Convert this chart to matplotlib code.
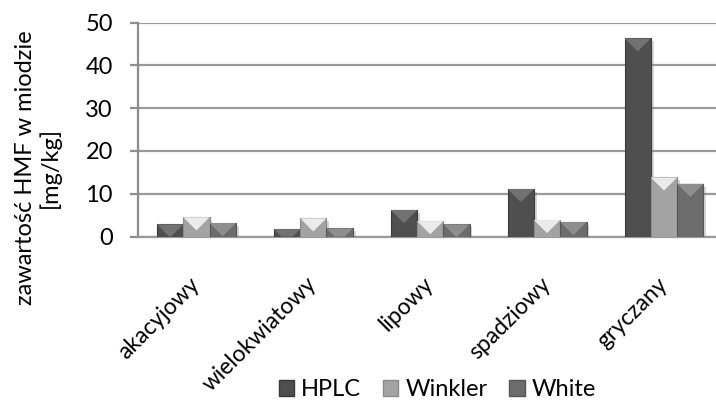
import matplotlib
matplotlib.use('Agg')
import matplotlib.pyplot as plt
import matplotlib.patheffects as pe
from matplotlib.patches import Polygon, Rectangle
import numpy as np

categories = ['akacyjowy', 'wielokwiatowy', 'lipowy', 'spadziowy', 'gryczany']
series_names = ['HPLC', 'Winkler', 'White']
hplc = [2.85, 1.75, 6.2, 11.1, 46.3]
winkler = [4.5, 4.25, 3.6, 3.85, 13.8]
white = [3.15, 1.9, 2.85, 3.4, 12.3]
y_ticks = [0, 10, 20, 30, 40, 50]

body_colors = ['#4f4f4f', '#a3a3a3', '#6c6c6c']
top_colors = ['#727272', '#ebebeb', '#8e8e8e']
edge_colors = ['#3a3a3a', '#8a8a8a', '#555555']

plt.rcParams['font.family'] = ['Lato', 'DejaVu Sans']
fs = 17

fig = plt.figure(figsize=(7.16, 4.04), dpi=100)
ax = fig.add_axes([0.1927, 0.4146, 0.8163, 0.5297])

ax.set_xlim(-0.5, len(categories) - 0.5)
ax.set_ylim(0, 50)

bar_w = 0.225
x = np.arange(len(categories))
# depth of the bevel triangle: half a bar width, converted to data units
ax_w_px = fig.get_figwidth() * fig.dpi * ax.get_position().width
ax_h_px = fig.get_figheight() * fig.dpi * ax.get_position().height
bar_px = bar_w * ax_w_px / len(categories)
depth = (bar_px / 2) * 50 / ax_h_px

for i, vals in enumerate([hplc, winkler, white]):
    xs = x + (i - 1) * bar_w
    bars = ax.bar(xs, vals, bar_w, color=body_colors[i], edgecolor=edge_colors[i],
                  linewidth=0.8, zorder=3)
    for b in bars:
        b.set_path_effects([pe.SimplePatchShadow(offset=(2, -2), shadow_rgbFace='#888888', alpha=0.35),
                            pe.Normal()])
    for xc, v in zip(xs, vals):
        x0, x1 = xc - bar_w / 2, xc + bar_w / 2
        d = min(depth, v)
        frac = d / depth
        half = (bar_w / 2) * (1 - frac)
        pts = [(x0, v), (x1, v), (xc + half, v - d), (xc - half, v - d)]
        ax.add_patch(Polygon(pts, closed=True, facecolor=top_colors[i], edgecolor='none', zorder=4))

ax.set_yticks(y_ticks)
ax.set_xticks(x)
ax.set_xticklabels(categories, rotation=45, ha='right', va='center', rotation_mode='anchor')
ax.grid(axis='y', color='#9a9a9a', linewidth=1.6, zorder=0)
ax.set_axisbelow(True)
for s in ['top', 'right']:
    ax.spines[s].set_visible(False)
ax.spines['left'].set_color('#8c8c8c')
ax.spines['left'].set_linewidth(1.6)
ax.spines['bottom'].set_color('#9a9a9a')
ax.spines['bottom'].set_linewidth(1.6)
ax.tick_params(axis='y', length=6, width=1.6, color='#8c8c8c', pad=12, labelsize=fs)
ax.tick_params(axis='x', length=0, pad=32, labelsize=16.5)

fig.text(38 / 716, 1 - 168 / 404, 'zawartość HMF w miodzie\n[mg/kg]', rotation=90,
         ha='center', va='center', multialignment='center', fontsize=fs, linespacing=1.15)

handles = [Rectangle((0, 0), 1, 1, facecolor=body_colors[i], edgecolor=edge_colors[i]) for i in range(3)]
fig.legend(handles, series_names, loc='center', bbox_to_anchor=(437.5 / 716, 1 - 390 / 404), ncol=3,
           frameon=False, fontsize=fs, handlelength=0.64, handleheight=0.64, handletextpad=0.3,
           columnspacing=0.93, borderpad=0)

fig.savefig('out.png', dpi=100)
